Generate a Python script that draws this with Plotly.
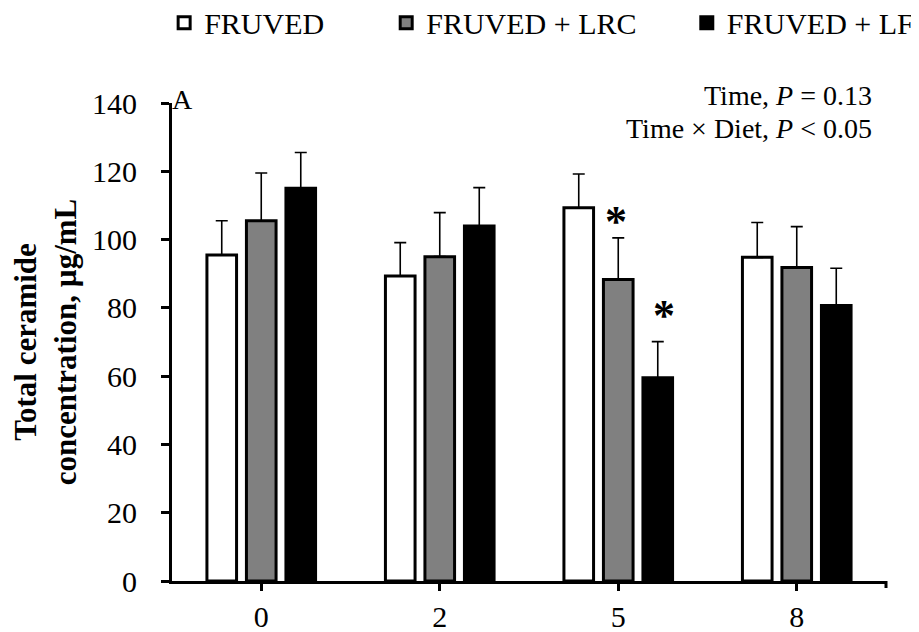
import plotly.graph_objects as go

weeks = ["0", "2", "5", "8"]
series_names = ["FRUVED", "FRUVED + LRC", "FRUVED + LF"]
fruved = [95.5, 89.3, 109.3, 94.8]
fruved_err = [10.0, 9.8, 9.9, 10.2]
lrc = [105.5, 95.0, 88.3, 91.8]
lrc_err = [14.0, 12.9, 12.2, 12.0]
lf = [115.0, 104.0, 59.5, 80.7]
lf_err = [10.5, 11.2, 10.6, 10.9]
y_ticks = [0, 20, 40, 60, 80, 100, 120, 140]

FONT = "Liberation Serif, Times New Roman, serif"
colors = ["#ffffff", "#808080", "#000000"]
values = [fruved, lrc, lf]
errors = [fruved_err, lrc_err, lf_err]
legend_ids = ["legend", "legend2", "legend3"]

fig = go.Figure()
for name, v, e, c, lg in zip(series_names, values, errors, colors, legend_ids):
    fig.add_trace(go.Bar(
        x=weeks, y=v, name=name, legend=lg, showlegend=True,
        marker=dict(color=c, line=dict(color="black", width=3)),
        error_y=dict(type="data", array=e, visible=True, symmetric=False,
                     arrayminus=[0] * len(e), color="black", thickness=1.6, width=6),
    ))

legend_common = dict(orientation="h", yanchor="middle", y=1.168, xanchor="left",
                     font=dict(family=FONT, size=30, color="black"),
                     bgcolor="rgba(0,0,0,0)", itemwidth=30, tracegroupgap=0)

fig.update_layout(
    width=919, height=632,
    margin=dict(l=164, r=41, t=95, b=59, autoexpand=False),
    paper_bgcolor="white", plot_bgcolor="white",
    showlegend=True,
    barmode="group", bargap=0.336, bargroupgap=0.25,
    font=dict(family=FONT, color="black"),
    legend=dict(x=-0.011, **legend_common),
    legend2=dict(x=0.300, **legend_common),
    legend3=dict(x=0.721, **legend_common),
    xaxis=dict(
        type="category", range=[-0.5, 3.5], showline=True, linecolor="black", linewidth=3,
        ticks="outside", ticklen=7, tickwidth=3, tickcolor="black",
        tickfont=dict(family=FONT, size=30, color="black"),
        ticklabelstandoff=0, showgrid=False, zeroline=False,
    ),
    yaxis=dict(
        range=[0, 140], tickvals=y_ticks, showline=True, linecolor="black", linewidth=3,
        ticks="outside", ticklen=8, tickwidth=3, tickcolor="black",
        tickfont=dict(family=FONT, size=30, color="black"),
        ticklabelstandoff=18, showgrid=False, zeroline=False,
        title=dict(text="<b>Total ceramide<br>concentration, µg/mL</b>",
                   font=dict(family=FONT, size=31, color="black"), standoff=14),
    ),
)

fig.add_shape(type="line", xref="paper", yref="paper", x0=1, x1=1,
              ysizemode="pixel", yanchor=0, y0=0, y1=-7,
              line=dict(color="black", width=3))

ann_font = dict(family=FONT, size=28, color="black")
fig.add_annotation(text="A", xref="paper", yref="paper", x=0, y=1, xanchor="left",
                   yanchor="middle", xshift=-2, yshift=4, showarrow=False, font=ann_font)
fig.add_annotation(text="Time, <i>P</i> = 0.13", xref="paper", yref="paper", x=0.983, y=1.015,
                   xanchor="right", yanchor="middle", showarrow=False, font=ann_font)
fig.add_annotation(text="Time × Diet, <i>P</i> < 0.05", xref="paper", yref="paper", x=0.983,
                   y=0.946, xanchor="right", yanchor="middle", showarrow=False, font=ann_font)

# asterisks over week-5 bars (category index 2)
star_font = dict(family=FONT, size=44, color="black")
wk5 = weeks.index("5")
fig.add_annotation(text="<b>*</b>", x=wk5, y=lrc[wk5] + lrc_err[wk5], xref="x", yref="y",
                   xanchor="center", yanchor="bottom", xshift=-2, yshift=-10,
                   showarrow=False, font=star_font)
fig.add_annotation(text="<b>*</b>", x=wk5, y=lf[wk5] + lf_err[wk5], xref="x", yref="y",
                   xanchor="center", yanchor="bottom", xshift=46, yshift=0,
                   showarrow=False, font=star_font)

fig.write_html("out.html")
